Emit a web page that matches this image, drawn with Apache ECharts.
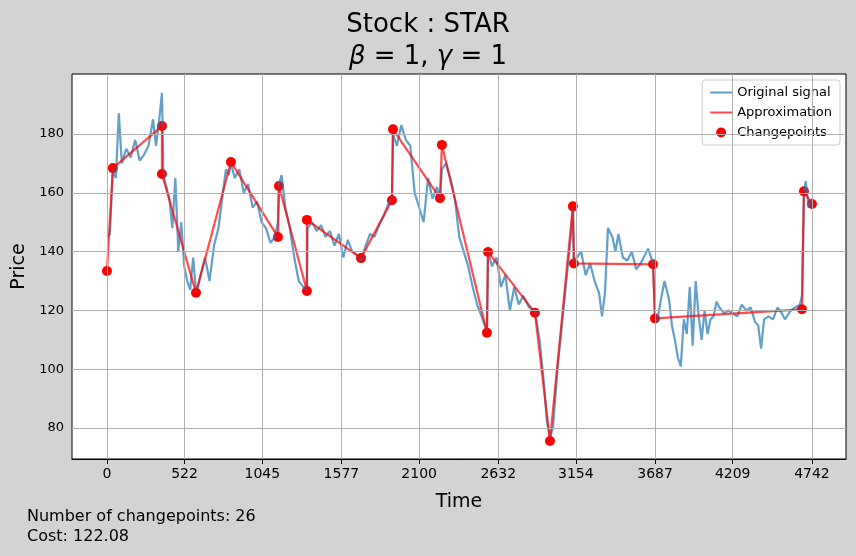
<!DOCTYPE html>
<html><head><meta charset="utf-8">
<script src="https://cdn.jsdelivr.net/npm/echarts@6/dist/echarts.min.js"></script>
<style>html,body{margin:0;padding:0;background:#d3d3d3}#c{width:856px;height:556px}</style>
</head><body><div id="c"></div>
<script>
const xTicks=[0,522,1045,1577,2100,2632,3154,3687,4209,4742];
const yTicks=[80,100,120,140,160,180];
const signalT=[0,20,40,60,80,100,130,160,190,220,250,280,310,330,350,370,380,400,420,440,460,480,500,520,540,560,580,600,630,660,690,720,750,780,800,820,834,860,890,920,950,980,1010,1040,1070,1100,1130,1150,1157,1175,1200,1230,1260,1290,1320,1345,1350,1380,1410,1440,1470,1500,1530,1560,1590,1620,1650,1680,1709,1740,1770,1800,1830,1860,1890,1917,1924,1950,1980,2010,2040,2070,2100,2130,2160,2190,2220,2240,2253,2280,2310,2340,2370,2400,2430,2460,2490,2520,2556,2563,2590,2620,2650,2680,2710,2740,2770,2800,2840,2879,2910,2940,2960,2980,3000,3030,3060,3090,3120,3134,3141,3160,3190,3220,3250,3280,3310,3330,3350,3370,3400,3420,3440,3470,3500,3530,3560,3590,3620,3640,3673,3686,3700,3720,3750,3780,3800,3820,3840,3860,3880,3900,3920,3940,3960,3980,4000,4020,4040,4060,4080,4100,4120,4150,4180,4210,4240,4270,4300,4330,4360,4380,4400,4420,4450,4480,4510,4540,4560,4600,4630,4660,4675,4688,4700,4720,4742];
const signalV=[145,146,168,165,187,170,175,172,178,171,173,176,185,176,184,194,166,162,158,148,165,140,150,135,130,127,138,126,132,138,130,142,148,160,168,166,170,165,168,160,163,155,157,150,148,143,145,150,163,166,155,148,138,130,128,127,148,150,147,149,145,147,142,146,138,144,140,139,137,142,146,145,149,152,156,158,180,176,183,178,176,160,155,150,165,158,162,158,168,170,165,158,145,140,135,128,122,118,113,140,135,138,128,132,120,128,122,125,121,120,110,95,82,77,80,100,115,130,145,155,136,138,140,132,136,130,126,118,126,148,145,140,146,138,137,140,134,136,139,141,136,119,116,122,130,124,115,110,104,101,117,112,128,108,130,118,110,120,112,117,118,123,121,119,120,119,118,122,120,121,116,115,107,117,118,117,121,119,117,120,121,122,125,160,164,155,158];
const cpT=[0,40,370,370,599,834,1150,1157,1345,1345,1709,1917,1924,2240,2253,2556,2563,2879,2980,3134,3141,3673,3686,4675,4688,4742];
const cpV=[133.4,168.4,182.7,166.4,126,170.5,145,162.3,126.6,150.8,137.8,157.5,181.6,158.2,176.3,112.4,139.9,119.2,75.6,155.4,136,135.7,117.3,120.4,160.5,156.2];
const ch=echarts.init(document.getElementById('c'));
const zip=(a,b)=>a.map((t,i)=>[t,b[i]]);
const ff='DejaVu Sans';
const ln='path://M0,4L22,4L22,6L0,6Z';
ch.setOption({
 backgroundColor:'#d3d3d3',animation:false,
 textStyle:{fontFamily:ff},
 title:{left:'center',top:4,text:'Stock : STAR\n{i|β} = 1, {i|γ} = 1',
  textStyle:{fontSize:26,fontWeight:'normal',color:'#000',lineHeight:32,fontFamily:ff,rich:{i:{fontSize:26,fontStyle:'italic',fontFamily:ff,color:'#000'}}}},
 grid:{left:72,right:10,top:74,bottom:97,backgroundColor:'#fff',show:true,borderColor:'#000',borderWidth:1},
 legend:{right:16,top:80,orient:'vertical',backgroundColor:'#fff',borderColor:'#ccc',borderWidth:1,borderRadius:3,padding:[6,8],itemGap:7,
  textStyle:{fontSize:13,color:'#000'},itemWidth:22,itemHeight:10,
  data:[{name:'Original signal',icon:ln},{name:'Approximation',icon:ln},{name:'Changepoints',icon:'circle'}]},
 xAxis:{type:'value',min:-235,max:4971,name:'Time',nameLocation:'middle',nameGap:34,nameTextStyle:{fontSize:19,color:'#000'},
  axisLine:{lineStyle:{color:'#000'}},axisTick:{customValues:xTicks,length:5,lineStyle:{color:'#000'}},
  axisLabel:{customValues:xTicks,fontSize:14,color:'#000',margin:8,formatter:v=>String(v)},splitLine:{show:false}},
 yAxis:{type:'value',min:69.5,max:200.4,name:'Price',nameLocation:'middle',nameGap:40,nameTextStyle:{fontSize:19,color:'#000'},
  axisLine:{show:true,lineStyle:{color:'#000'}},axisTick:{show:true,customValues:yTicks,length:5,lineStyle:{color:'#000'}},
  axisLabel:{customValues:yTicks,fontSize:13,color:'#000',formatter:v=>String(v)},splitLine:{show:false}},
 series:[
  {type:'line',name:'grid',silent:true,data:[],markLine:{silent:true,symbol:'none',label:{show:false},lineStyle:{color:'#b0b0b0',type:'solid',width:1},
    data:xTicks.map(v=>({xAxis:v})).concat(yTicks.map(v=>({yAxis:v})))}},
  {type:'line',name:'Original signal',data:zip(signalT,signalV),showSymbol:false,lineStyle:{color:'#1f77b4',width:2.2,opacity:0.7},itemStyle:{color:'rgba(31,119,180,0.7)'}},
  {type:'line',name:'Approximation',data:zip(cpT,cpV),showSymbol:false,lineStyle:{color:'#ff0000',width:2.2,opacity:0.7},itemStyle:{color:'rgba(255,0,0,0.7)'}},
  {type:'scatter',name:'Changepoints',data:zip(cpT,cpV),symbolSize:10,itemStyle:{color:'#ff0000',opacity:1}}
 ],
 graphic:[{type:'text',left:27,top:507,style:{text:'Number of changepoints: 26\nCost: 122.08',fontSize:16,lineHeight:20,fill:'#000',fontFamily:ff}}]
});
</script></body></html>
